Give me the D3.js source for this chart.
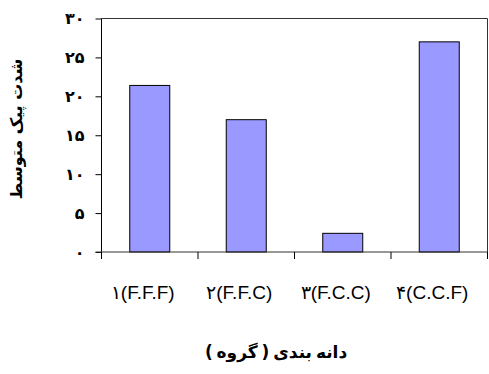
<!DOCTYPE html>
<html><head><meta charset="utf-8">
<script src="https://cdn.jsdelivr.net/npm/d3@7"></script>
<style>body{margin:0;background:#fff}svg{display:block}</style>
</head><body>
<script>
const categories = ["۱(F.F.F)", "۲(F.F.C)", "۳(F.C.C)", "۴(C.C.F)"];
const values = [21.4, 17.0, 2.4, 27.0];
const yTicks = [0, 5, 10, 15, 20, 25, 30];
const yTickLabels = ["۰", "۵", "۱۰", "۱۵", "۲۰", "۲۵", "۳۰"];
const xTitle = "دانه بندی ( گروه )";
const yTitle = "شدت پیک متوسط";

const W = 489, H = 374;
const m = {left: 101.5, right: 1.5, top: 18.5, bottom: 122};
const svg = d3.select("body").append("svg").attr("width", W).attr("height", H);
const x = d3.scaleBand().domain(categories).range([m.left, W - m.right]).paddingInner(0).paddingOuter(0);
const y = d3.scaleLinear().domain([0, 30]).range([H - m.bottom, m.top]);
const bw = 40;

// plot frame (top/right)
svg.append("path")
  .attr("d", `M${m.left},${m.top}H${W - m.right}V${H - m.bottom}`)
  .attr("fill", "none").attr("stroke", "#333").attr("stroke-width", 1);

// bars
svg.selectAll("rect.bar").data(values).join("rect")
  .attr("class", "bar")
  .attr("x", (d, i) => x(categories[i]) + x.bandwidth() / 2 - bw / 2)
  .attr("width", bw)
  .attr("y", d => y(d))
  .attr("height", d => y(0) - y(d))
  .attr("fill", "#9999FF").attr("stroke", "#000").attr("stroke-width", 1);

// y axis
const yAxis = d3.axisLeft(y).tickValues(yTicks).tickSize(6)
  .tickFormat((d, i) => yTickLabels[i]);
const gy = svg.append("g").attr("transform", `translate(${m.left},0)`).call(yAxis);
gy.select(".domain").attr("stroke", "#000").attr("d", `M0,${m.top}V${H - m.bottom + 7}`);
gy.selectAll(".tick line").attr("stroke", "#000");
gy.selectAll(".tick text").attr("x", -17)
  .attr("font-family", "DejaVu Sans").attr("font-weight", "bold").attr("font-size", 16).attr("fill", "#000");

// x axis
const xAxis = d3.axisBottom(x).tickSize(0).tickFormat("");
const gx = svg.append("g").attr("transform", `translate(0,${H - m.bottom})`).call(xAxis);
gx.select(".domain").attr("stroke", "#333").attr("d", `M${m.left - 6},0H${W - m.right}`);
const bounds = categories.map(c => x(c)).concat([W - m.right]);
gx.selectAll("line.sep").data(bounds).join("line").attr("class", "sep")
  .attr("x1", d => d).attr("x2", d => d).attr("y1", 0).attr("y2", 7)
  .attr("stroke", "#000");

// x labels
svg.selectAll("text.xl").data(categories).join("text").attr("class", "xl")
  .attr("x", d => x(d) + x.bandwidth() / 2 - 7)
  .attr("y", 299)
  .attr("text-anchor", "middle")
  .attr("direction", "ltr")
  .attr("font-family", "Liberation Sans, Arial").attr("font-size", 19).attr("fill", "#000")
  .text(d => d);

// x title
svg.append("text").attr("x", 276).attr("y", 358).attr("text-anchor", "middle")
  .attr("font-family", "DejaVu Sans").attr("font-weight", "bold").attr("font-size", 17)
  .attr("word-spacing", "-2")
  .text(xTitle);

// y title
svg.append("text").attr("transform", "translate(22,129) rotate(-90)")
  .attr("text-anchor", "middle")
  .attr("font-family", "DejaVu Sans").attr("font-weight", "bold").attr("font-size", 16)
  .text(yTitle);
</script>
</body></html>
